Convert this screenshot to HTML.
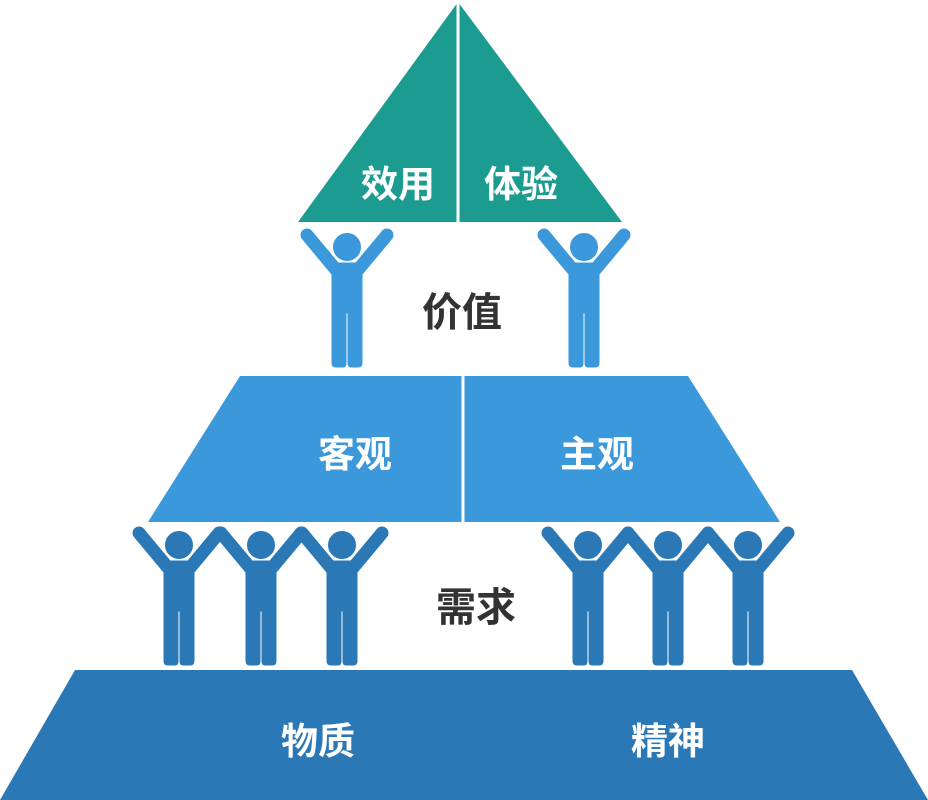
<!DOCTYPE html>
<html><head><meta charset="utf-8"><style>
html,body{margin:0;padding:0;background:#fff;width:928px;height:800px;overflow:hidden}
svg{display:block}
text{font-family:"Liberation Sans","Noto Sans CJK SC",sans-serif;font-weight:bold;text-anchor:middle}
</style></head><body>
<svg width="928" height="800" viewBox="0 0 928 800">
<defs>
<g id="p">
<circle cx="0" cy="0" r="13.5"/>
<path d="M-15 22 Q-15 16 -9 16 L9 16 Q15 16 15 22 L15 116 Q15 120 11 120 L4 120 Q1 120 1 116 L1 66 L-1 66 L-1 116 Q-1 120 -4 120 L-11 120 Q-15 120 -15 116 Z"/>
<path d="M-10 24 L-40 -12 M10 24 L40 -12" stroke-width="13" stroke-linecap="round" fill="none"/>
</g>
</defs>
<polygon points="458,2 622,222 298,222" fill="#1c9b91"/>
<line x1="458" y1="0" x2="458" y2="224" stroke="#fff" stroke-width="3"/>
<text x="398" y="197" font-size="37" fill="#fff">效用</text>
<text x="521" y="197" font-size="37" fill="#fff">体验</text>

<g fill="#3a98db" stroke="#3a98db"><use href="#p" x="347" y="247"/><use href="#p" x="584" y="247"/></g>
<text x="462" y="326" font-size="40" fill="#333">价值</text>

<polygon points="240,376 688,376 780,522 148,522" fill="#3a98db"/>
<line x1="463" y1="374" x2="463" y2="524" stroke="#fff" stroke-width="3"/>
<text x="355" y="467" font-size="37" fill="#fff">客观</text>
<text x="597" y="467" font-size="37" fill="#fff">主观</text>

<g fill="#2a78b6" stroke="#2a78b6">
<use href="#p" x="179" y="545"/><use href="#p" x="261" y="545"/><use href="#p" x="342" y="545"/>
<use href="#p" x="588" y="545"/><use href="#p" x="668" y="545"/><use href="#p" x="748" y="545"/>
</g>
<text x="476" y="621" font-size="40" fill="#333">需求</text>

<polygon points="75,670 852,670 928,800 0,800" fill="#2a78b6"/>
<text x="318" y="754" font-size="37" fill="#fff">物质</text>
<text x="668" y="754" font-size="37" fill="#fff">精神</text>
</svg>
</body></html>
